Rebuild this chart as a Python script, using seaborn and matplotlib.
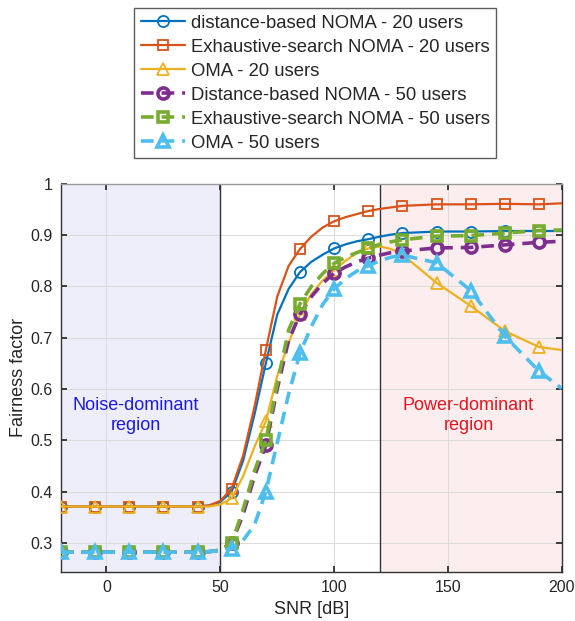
import numpy as np
import pandas as pd
import matplotlib
matplotlib.use("Agg")
import matplotlib.pyplot as plt
import seaborn as sns

# ── Data ─────────────────────────────────────────────────
snr = [-20, -5, 10, 25, 40, 45, 50, 55, 60, 65, 70, 75, 80, 85, 90, 95,
       100, 105, 110, 115, 120, 125, 130, 145, 160, 175, 190, 200]
snr_markers = [-20, -5, 10, 25, 40, 55, 70, 85, 100, 115, 130, 145, 160, 175, 190]

db_noma_20 = [.371, .371, .371, .371, .371, .373, .380, .400, .460, .550, .650, .745, .795, .828,
              .848, .862, .874, .882, .888, .892, .897, .901, .904, .907, .907, .908, .908, .908]
es_noma_20 = [.371, .371, .371, .371, .371, .373, .382, .406, .470, .565, .676, .780, .840, .873,
              .897, .915, .927, .935, .941, .947, .951, .954, .957, .960, .960, .961, .960, .962]
oma_20 = [.371, .371, .371, .371, .371, .371, .375, .387, .430, .487, .537, .625, .690, .746,
          .785, .812, .832, .850, .865, .874, .878, .873, .862, .807, .762, .713, .682, .676]
db_noma_50 = [.282, .282, .282, .282, .282, .283, .286, .300, .355, .430, .490, .600, .695, .746,
              .780, .806, .826, .838, .848, .855, .861, .866, .869, .875, .876, .881, .886, .888]
es_noma_50 = [.282, .282, .282, .282, .282, .283, .286, .300, .365, .440, .500, .610, .715, .766,
              .800, .825, .845, .857, .866, .874, .882, .887, .891, .898, .899, .904, .909, .910]
oma_50 = [.282, .282, .282, .282, .282, .283, .285, .289, .305, .335, .400, .495, .590, .670,
          .722, .765, .795, .815, .830, .840, .850, .857, .861, .846, .792, .703, .635, .601]

labels = ["distance-based NOMA - 20 users", "Exhaustive-search NOMA - 20 users",
          "OMA - 20 users", "Distance-based NOMA - 50 users",
          "Exhaustive-search NOMA - 50 users", "OMA - 50 users"]

# ── Style ────────────────────────────────────────────────
sns.set_theme(style="whitegrid")
plt.rcParams["font.family"] = ["Liberation Sans", "DejaVu Sans"]

colors = ["#0072BD", "#D95319", "#EDB120", "#7E2F8E", "#77AC30", "#4DBEEE"]
markers = ["o", "s", "^", "o", "s", "^"]
series = [db_noma_20, es_noma_20, oma_20, db_noma_50, es_noma_50, oma_50]
mark_mask = [x in snr_markers for x in snr]

fig = plt.figure(figsize=(5.75, 6.21), dpi=100)
ax = fig.add_axes([0.106, 0.079, 0.871, 0.625])

# regions
ax.axvspan(-20, 50, facecolor="#EEEEFB", edgecolor="none", zorder=0)
ax.axvspan(120, 200, facecolor="#FCEEEE", edgecolor="none", zorder=0)
ax.axvline(50, color="#333333", linewidth=1, zorder=2)
ax.axvline(120, color="#333333", linewidth=1, zorder=2)

handles = []
for i, (vals, lab) in enumerate(zip(series, labels)):
    df = pd.DataFrame({"snr": snr, "ff": vals})
    dashed = i >= 3
    sns.lineplot(data=df, x="snr", y="ff", ax=ax, color=colors[i],
                 linewidth=2.6 if dashed else 1.6,
                 marker=markers[i], markevery=mark_mask,
                 markersize=8 if markers[i] != "s" else 7,
                 markerfacecolor="none", markeredgecolor=colors[i],
                 markeredgewidth=2.6 if dashed else 1.3,
                 label=lab, zorder=3 + i)
    line = ax.get_lines()[-1]
    if dashed:
        line.set_dashes((3.5, 2.2))
    handles.append(line)

ax.text(13, 0.548, "Noise-dominant\nregion", color="#1A1AE6", fontsize=13,
        ha="center", va="center", linespacing=1.25)
ax.text(159, 0.548, "Power-dominant\nregion", color="#E6141E", fontsize=13,
        ha="center", va="center", linespacing=1.25)

ax.set_xlim(-20, 200)
ax.set_ylim(0.2435, 1)
ax.set_xticks([0, 50, 100, 150, 200])
ax.set_yticks([0.3, 0.4, 0.5, 0.6, 0.7, 0.8, 0.9, 1])
ax.set_yticklabels(["0.3", "0.4", "0.5", "0.6", "0.7", "0.8", "0.9", "1"])
ax.tick_params(labelsize=11.5, colors="#262626", direction="in", length=4,
               left=True, bottom=True, top=True, right=True, pad=6)
ax.set_xlabel("SNR [dB]", fontsize=13, color="#262626", labelpad=4)
ax.set_ylabel("Fairness factor", fontsize=13, color="#262626", labelpad=2)
ax.grid(True, color="#DCDCDC", linewidth=0.8, zorder=1)
for sp in ax.spines.values():
    sp.set_color("#333333")
    sp.set_linewidth(1)
ax.spines["top"].set_color("#999999")
if ax.get_legend():
    ax.get_legend().remove()

leg = fig.legend(handles=handles, labels=labels, loc="upper center",
                 bbox_to_anchor=(0.548, 0.987), fontsize=13.3, frameon=True,
                 fancybox=False, edgecolor="#333333", handlelength=2.4,
                 labelspacing=0.38, borderpad=0.35, handletextpad=0.3,
                 borderaxespad=0)
leg.get_frame().set_linewidth(1)

fig.savefig("out.png", dpi=100)
